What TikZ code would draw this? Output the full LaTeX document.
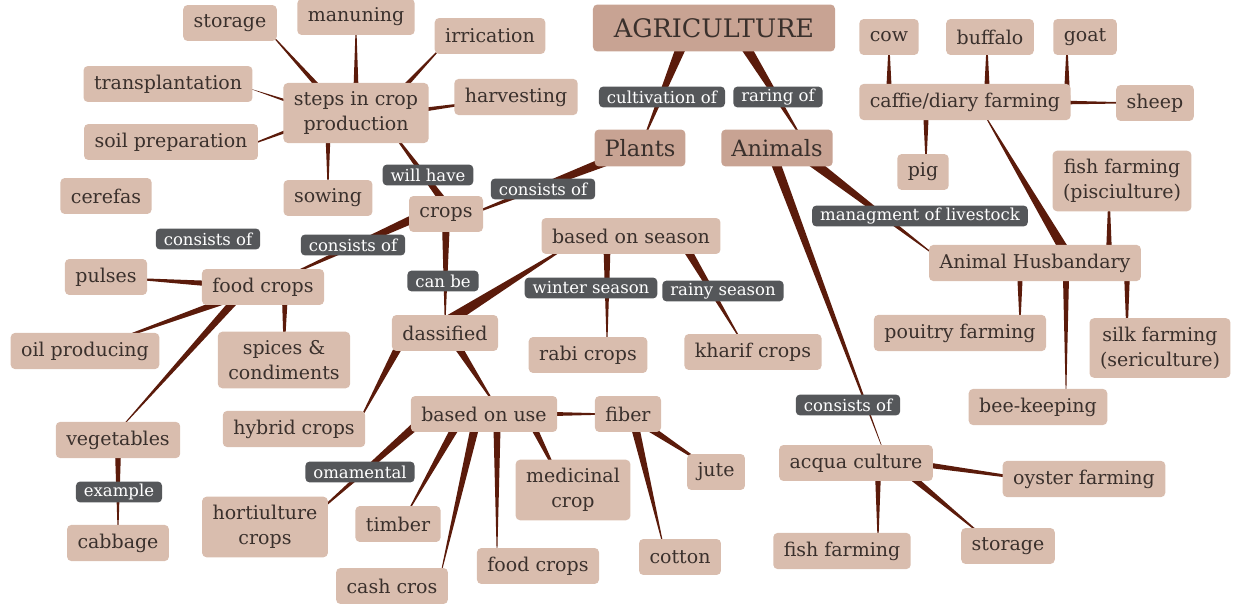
\documentclass[tikz,border=0pt]{standalone}
\usepackage{fontspec}
\setmainfont{DejaVu Serif}
\usetikzlibrary{calc}
\definecolor{topicfill}{HTML}{D9BDAE}
\definecolor{rootfill}{HTML}{C8A393}
\definecolor{linkfill}{HTML}{55575A}
\definecolor{twigcol}{HTML}{5B1B0B}
\definecolor{inktext}{HTML}{3A302C}
\pgfdeclarelayer{bg}
\pgfsetlayers{bg,main}
\tikzset{
    topicbox/.style={
        fill=topicfill,
        text=inktext,
        rounded corners=2.5pt,
        inner xsep=0.21cm,
        inner ysep=5pt,
        minimum height=0.72cm,
        align=center,
        font=\fontsize{10.8}{14}\selectfont
    },
    rootbox/.style={topicbox, fill=rootfill, inner xsep=0.42cm,
        minimum height=0.94cm, font=\fontsize{14.5}{17}\selectfont},
    mainbox/.style={topicbox, fill=rootfill, inner xsep=0.2cm,
        minimum height=0.74cm, font=\fontsize{12.8}{15}\selectfont},
    linkbox/.style={
        fill=linkfill,
        text=white,
        rounded corners=2.5pt,
        inner xsep=0.16cm,
        inner ysep=0pt,
        minimum height=0.42cm,
        font=\fontsize{9.4}{11}\selectfont
    },
    twig/.style={fill=twigcol}
}
% tapered branch, thick at the first end
\newcommand{\twig}[3][1.9pt]{
    \coordinate (tw1) at (#2);
    \coordinate (tw2) at (#3);
    \fill[twig] ($(tw1)!#1!90:(tw2)$) -- ($(tw1)!#1!-90:(tw2)$) -- (tw2) -- cycle;
}
\begin{document}
\begin{tikzpicture}[x=0.02cm,y=-0.02cm]
    \useasboundingbox (0,0) rectangle (1242,608);
    % top
    \node[rootbox] (agri) at (714,28) {AGRICULTURE};
    \node[mainbox] (plants) at (640,148) {Plants};
    \node[mainbox] (animals) at (777,148) {Animals};
    \node[linkbox] (cultof) at (662,97) {cultivation of};
    \node[linkbox] (raring) at (778,97) {raring of};
    % crop production
    \node[topicbox] (storeA) at (230,23) {storage};
    \node[topicbox] (manure) at (356,17) {manuning};
    \node[topicbox] (irrig) at (490,36) {irrication};
    \node[topicbox] (transp) at (168,84) {transplantation};
    \node[topicbox] (steps) at (356,113) {steps in crop\\production};
    \node[topicbox] (harvest) at (516,97) {harvesting};
    \node[topicbox] (soil) at (171,142) {soil preparation};
    \node[topicbox] (cerefas) at (106,196) {cerefas};
    \node[topicbox] (sowing) at (328,198) {sowing};
    \node[linkbox] (willhave) at (428,175) {will have};
    \node[linkbox] (consA) at (543,189) {consists of};
    \node[topicbox] (crops) at (446,214) {crops};
    \node[linkbox] (consB) at (208,239) {consists of};
    \node[linkbox] (consC) at (353,245) {consists of};
    % food crops
    \node[topicbox] (pulses) at (106,277) {pulses};
    \node[topicbox] (food) at (263,287) {food crops};
    \node[topicbox] (oil) at (85,351) {oil producing};
    \node[topicbox] (spices) at (284,360) {spices \&\\condiments};
    \node[topicbox] (veg) at (118,440) {vegetables};
    \node[linkbox] (example) at (119,492) {example};
    \node[topicbox] (cabbage) at (118,543) {cabbage};
    % classified
    \node[linkbox] (canbe) at (443,281) {can be};
    \node[topicbox] (season) at (631,236) {based on season};
    \node[linkbox] (winter) at (591,288) {winter season};
    \node[linkbox] (rainy) at (723,291) {rainy season};
    \node[topicbox] (dass) at (445,333) {dassified};
    \node[topicbox] (rabi) at (588,355) {rabi crops};
    \node[topicbox] (kharif) at (753,352) {kharif crops};
    \node[topicbox] (hybrid) at (294,429) {hybrid crops};
    \node[topicbox] (use) at (484,414) {based on use};
    \node[topicbox] (fiber) at (628,414) {fiber};
    \node[linkbox] (omam) at (360,472) {omamental};
    \node[topicbox] (hort) at (265,527) {hortiulture\\crops};
    \node[topicbox] (timber) at (398,524) {timber};
    \node[topicbox] (cash) at (392,586) {cash cros};
    \node[topicbox] (foodB) at (538,566) {food crops};
    \node[topicbox] (medic) at (573,490) {medicinal\\crop};
    \node[topicbox] (jute) at (716,472) {jute};
    \node[topicbox] (cotton) at (680,557) {cotton};
    % animals
    \node[topicbox] (cow) at (889,37) {cow};
    \node[topicbox] (buffalo) at (990,37) {buffalo};
    \node[topicbox] (goat) at (1085,37) {goat};
    \node[topicbox] (cattle) at (965,102) {caffie/diary farming};
    \node[topicbox] (sheep) at (1155,103) {sheep};
    \node[topicbox] (pig) at (923,172) {pig};
    \node[topicbox] (fishP) at (1122,181) {fish farming\\(pisciulture)};
    \node[linkbox] (livestock) at (920,216) {managment of livestock};
    \node[topicbox] (husb) at (1035,263) {Animal Husbandary};
    \node[topicbox] (poultry) at (960,333) {pouitry farming};
    \node[topicbox] (silk) at (1160,348) {silk farming\\(sericulture)};
    \node[topicbox] (bee) at (1038,407) {bee-keeping};
    \node[linkbox] (consD) at (848,405) {consists of};
    \node[topicbox] (acqua) at (856,463) {acqua culture};
    \node[topicbox] (oyster) at (1084,479) {oyster farming};
    \node[topicbox] (fish) at (842,551) {fish farming};
    \node[topicbox] (storeB) at (1008,546) {storage};
    % draw branches
    \begin{pgfonlayer}{bg}
        \twig[3.4pt]{$(agri)+(-25,0)$}{plants}
        \twig[3.4pt]{$(agri)+(20,0)$}{$(animals)+(31,0)$}
        \twig[3.2pt]{plants}{$(crops)+(0,10)$}
        \twig[2.4pt]{$(crops)+(7,0)$}{$(steps)+(22,0)$}
        \twig{$(steps)+(-14,0)$}{$(storeA)+(31,0)$}
        \twig{steps}{manure}
        \twig{$(steps)+(24,0)$}{$(irrig)+(-38,0)$}
        \twig{$(steps)+(0,11)$}{$(transp)+(80,4)$}
        \twig{$(steps)+(0,6)$}{harvest}
        \twig{$(steps)+(0,-8)$}{$(soil)+(60,10)$}
        \twig{$(steps)+(-28,0)$}{sowing}
        \twig[2.9pt]{$(crops)+(0,-10)$}{food}
        \twig[2.4pt]{crops}{dass}
        \twig[2.4pt]{food}{pulses}
        \twig[2.4pt]{food}{oil}
        \twig{$(food)+(22,0)$}{spices}
        \twig[2.4pt]{$(food)+(-16,0)$}{$(veg)+(-8,0)$}
        \twig{veg}{cabbage}
        \twig[3.2pt]{$(dass)+(0,-10)$}{$(season)+(-47,0)$}
        \twig[2.2pt]{$(season)+(-24,0)$}{$(rabi)+(19,0)$}
        \twig[2.6pt]{$(season)+(48,0)$}{$(kharif)+(-5,0)$}
        \twig[2.6pt]{$(dass)+(-39,0)$}{$(hybrid)+(61,0)$}
        \twig[2.6pt]{$(dass)+(4,0)$}{$(use)+(17,0)$}
        \twig[2.2pt]{use}{fiber}
        \twig[2.6pt]{$(use)+(-55,0)$}{$(hort)+(36,0)$}
        \twig[2.6pt]{$(use)+(-21,0)$}{$(timber)+(3,0)$}
        \twig[2.6pt]{$(use)+(-6,0)$}{$(cash)+(46,0)$}
        \twig[2.2pt]{$(use)+(13,0)$}{$(foodB)+(-41,0)$}
        \twig[2.2pt]{$(use)+(43,0)$}{$(medic)+(-8,0)$}
        \twig[2.6pt]{fiber}{jute}
        \twig[2.6pt]{$(fiber)+(4,0)$}{$(cotton)+(-14,0)$}
        \twig[3.2pt]{$(animals)+(17,0)$}{$(husb)+(-90,0)$}
        \twig[2.8pt]{$(animals)+(-7,0)$}{$(acqua)+(32,0)$}
        \twig{$(cattle)+(-76,0)$}{cow}
        \twig{$(cattle)+(22,0)$}{$(buffalo)+(-3,0)$}
        \twig{$(cattle)+(102,0)$}{$(goat)+(-18,0)$}
        \twig[2.2pt]{cattle}{sheep}
        \twig{$(cattle)+(-39,0)$}{$(pig)+(3,0)$}
        \twig[3pt]{$(husb)+(37,0)$}{$(cattle)+(12,0)$}
        \twig{$(husb)+(74,0)$}{$(fishP)+(-13,0)$}
        \twig{$(husb)+(-15,0)$}{$(poultry)+(60,0)$}
        \twig{$(husb)+(31,0)$}{$(bee)+(28,0)$}
        \twig{$(husb)+(92,0)$}{$(silk)+(-33,0)$}
        \twig[2.2pt]{$(acqua)+(0,-8)$}{$(oyster)+(0,8)$}
        \twig{$(acqua)+(22,0)$}{$(fish)+(36,0)$}
        \twig[2.2pt]{$(acqua)+(39,0)$}{$(storeB)+(-13,0)$}
    \end{pgfonlayer}
\end{tikzpicture}
\end{document}
